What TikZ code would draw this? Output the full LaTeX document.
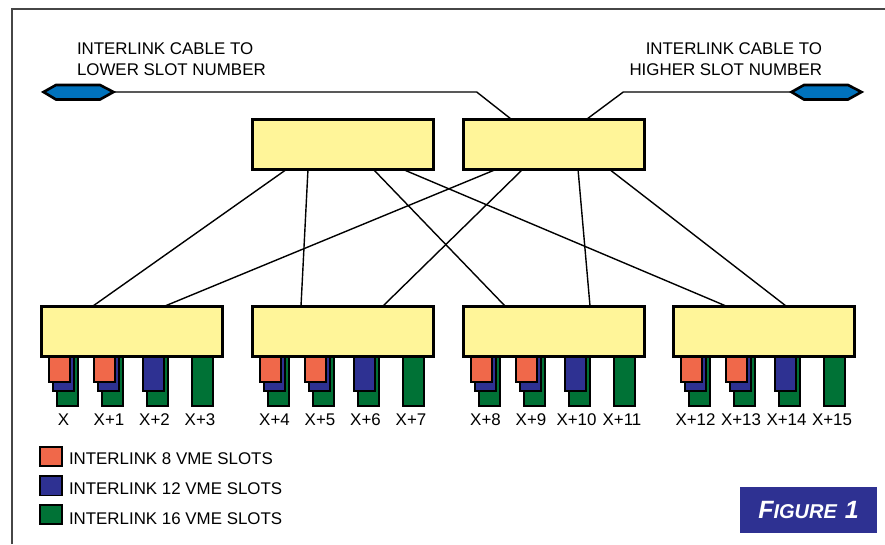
\documentclass[tikz,border=0pt]{standalone}
\usepackage{fontspec}
\setmainfont{Liberation Sans}
\usetikzlibrary{backgrounds}
\definecolor{boxyellow}{RGB}{255,245,153}
\definecolor{vorange}{RGB}{240,104,74}
\definecolor{vblue}{RGB}{46,49,146}
\definecolor{vgreen}{RGB}{0,114,54}
\definecolor{hexblue}{RGB}{0,114,188}
\definecolor{framegray}{RGB}{70,70,70}
\tikzset{
  hub/.style={draw=black, fill=boxyellow, line width=3pt, minimum width=181pt, minimum height=50pt, inner sep=0pt, outer sep=0pt, anchor=north west},
  conn/.style={draw=black, line width=1.4pt},
  bar/.style={draw=black, line width=1.3pt},
  hexa/.style={draw=black, fill=hexblue, line width=2.6pt, line join=miter},
  txt/.style={font=\fontsize{16.9}{20}\selectfont, inner sep=0pt, outer sep=0pt},
  legsq/.style={draw=black, line width=1.3pt}
}
\begin{document}
\begin{tikzpicture}[x=1pt,y=-1pt]
\useasboundingbox (0,0) rectangle (885,544);
% frame
\draw[framegray, line width=2pt] (11.5,544) -- (11.5,8.5) -- (885,8.5);

% top hubs
\node[hub] (T1) at (252,119) {};
\node[hub] (T2) at (463,119) {};
% bottom hubs
\node[hub] (B1) at (41,306) {};
\node[hub] (B2) at (252,306) {};
\node[hub] (B3) at (463,306) {};
\node[hub] (B4) at (673,306) {};

\begin{pgfonlayer}{background}
\draw[conn] ([xshift=35pt]T1.south west) -- ([xshift=52pt]B1.north west);
\draw[conn] ([xshift=56pt]T1.south west) -- ([xshift=49pt]B2.north west);
\draw[conn] ([xshift=121pt]T1.south west) -- ([xshift=42pt]B3.north west);
\draw[conn] ([xshift=150pt]T1.south west) -- ([xshift=53pt]B4.north west);
\draw[conn] ([xshift=34pt]T2.south west) -- ([xshift=124pt]B1.north west);
\draw[conn] ([xshift=60pt]T2.south west) -- ([xshift=131pt]B2.north west);
\draw[conn] ([xshift=115pt]T2.south west) -- ([xshift=127pt]B3.north west);
\draw[conn] ([xshift=146pt]T2.south west) -- ([xshift=113pt]B4.north west);
% cables
\coordinate (hexLtip) at (113.5,92);
\coordinate (kinkL) at (476.7,92);
\coordinate (hexRtip) at (791.5,92);
\coordinate (kinkR) at (623.3,92);
\draw[conn] (hexLtip) -- (kinkL) -- ([xshift=48pt]T2.north west);
\draw[conn] (hexRtip) -- (kinkR) -- ([xshift=124pt]T2.north west);
\end{pgfonlayer}

% connectors (hexagons)
\draw[hexa] (43.5,92) -- (56,85) -- (100,85) -- (hexLtip) -- (100,99.5) -- (56,99.5) -- cycle;
\draw[hexa] (hexRtip) -- (804,85) -- (848,85) -- (861.5,92) -- (848,99.5) -- (804,99.5) -- cycle;

% cable texts
\node[txt, anchor=base west] (cl1) at (77,54.3) {INTERLINK CABLE TO};
\node[txt, anchor=base west] (cl2) at (77,75) {LOWER SLOT NUMBER};
\node[txt, anchor=base east] (cr1) at (822,54.3) {INTERLINK CABLE TO};
\node[txt, anchor=base east] (cr2) at (822,75) {HIGHER SLOT NUMBER};

% slot bars and labels
\foreach \L [count=\i from 0] in {41,252,463,673} {
  \begin{pgfonlayer}{background}
  \foreach \k in {0,1} {
    \pgfmathsetmacro\a{\L+8+45*\k}
    \draw[bar, fill=vgreen] (\a+8,350) rectangle (\a+29,406);
    \draw[bar, fill=vblue] (\a+4,350) rectangle (\a+25,391);
    \draw[bar, fill=vorange] (\a,350) rectangle (\a+21,382);
  }
  \draw[bar, fill=vgreen] (\L+106,350) rectangle (\L+127,406);
  \draw[bar, fill=vblue] (\L+102,350) rectangle (\L+123,391);
  \draw[bar, fill=vgreen] (\L+151,350) rectangle (\L+172,406);
  \end{pgfonlayer}
  \foreach \k in {0,1,2,3} {
    \pgfmathtruncatemacro\n{4*\i+\k}
    \node[txt, anchor=base] (slot\n) at (\L+22.5+45.5*\k,425) {\ifnum\n=0 X\else X+\n\fi};
  }
}

% legend
\draw[legsq, fill=vorange] (40,447) rectangle (62,466);
\draw[legsq, fill=vblue] (40,476) rectangle (62,495.5);
\draw[legsq, fill=vgreen] (40,505) rectangle (62,524);
\node[txt, anchor=base west] (leg8) at (69,464.3) {INTERLINK 8 VME SLOTS};
\node[txt, anchor=base west] (leg12) at (69,494.3) {INTERLINK 12 VME SLOTS};
\node[txt, anchor=base west] (leg16) at (69,524) {INTERLINK 16 VME SLOTS};

% figure label
\node[fill=vblue, minimum width=137pt, minimum height=46pt, inner sep=0pt, text=white, font=\bfseries\itshape] (fig) at (808.5,510)
  {{\fontsize{25}{26}\selectfont F}{\fontsize{20}{22}\selectfont IGURE}\hspace{8pt}{\fontsize{25}{26}\selectfont 1}};
\end{tikzpicture}
\end{document}
